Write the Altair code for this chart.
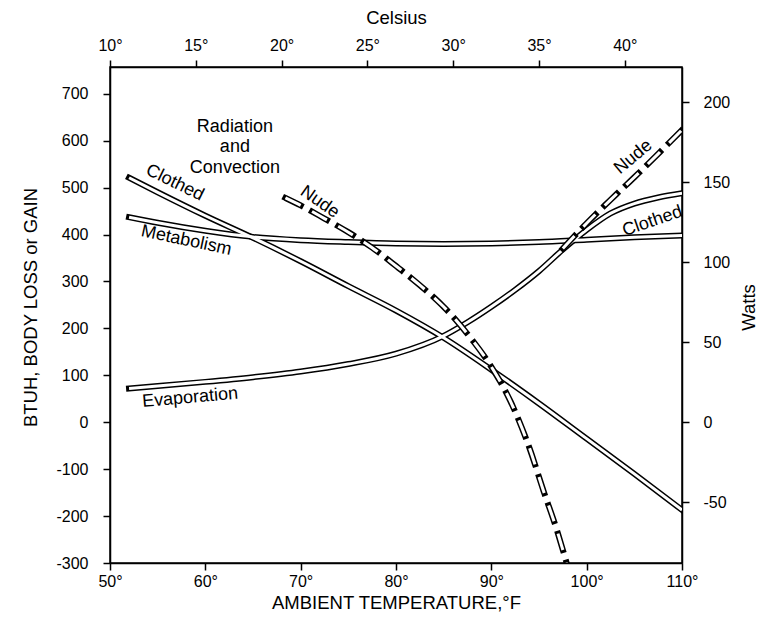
import altair as alt
import pandas as pd

# ---- data ----
F_CLOTHED = [52, 55, 60, 65, 70, 75, 80, 85, 90, 95, 100, 105, 110]
CLOTHED_RC = [521, 490, 440, 393, 343, 290, 238, 180, 112, 40, -35, -110, -187]

F_METAB = [52, 55, 60, 65, 70, 75, 80, 85, 90, 95, 100, 105, 110]
METABOLISM = [437, 425, 408, 395, 388, 384, 381, 380, 381, 384, 389, 394, 398]

F_EVAP = [52, 55, 60, 65, 70, 75, 80, 85, 87.5, 90, 92.5, 95, 97.5, 100, 102.5, 105, 107.5, 110]
EVAPORATION = [72, 77, 86, 96, 108, 124, 146, 184, 213, 246, 282, 322, 368, 410, 445, 466, 479, 488]

F_NUDE_RC = [68.4, 70, 72.5, 75, 77.5, 80, 82.5, 85, 87.5, 90, 92, 94, 95.5, 96.8, 97.9]
NUDE_RC = [478, 462, 434, 405, 372, 333, 292, 246, 188, 118, 45, -55, -148, -225, -300]

F_NUDE_EVAP = [97.5, 100, 102.5, 105, 107.5, 110]
NUDE_EVAP = [370, 424, 474, 522, 572, 623]

LABEL_TEXT = ["Radiation", "and", "Convection", "Clothed", "Metabolism", "Nude",
              "Evaporation", "Nude", "Clothed"]
LABEL_F = [63.1, 63.1, 63.1, 56.8, 58.0, 72.0, 58.4, 104.9, 106.9]
LABEL_Y = [629, 586, 542, 510, 387, 469, 52, 565, 428]
LABEL_ANGLE = [0, 0, 0, 26, 12, 35, 355, 320, 341]

F_TICKS = [50, 60, 70, 80, 90, 100, 110]
C_TICKS = [10, 15, 20, 25, 30, 35, 40]
BTUH_TICKS = [-300, -200, -100, 0, 100, 200, 300, 400, 500, 600, 700]
WATT_TICKS = [-50, 0, 50, 100, 150, 200]

F_DOMAIN = [50, 110]
BTUH_DOMAIN = [-300, 757]
C_DOMAIN = [10, 43.333]
WATT_DOMAIN = [-87.92, 221.86]

FONT = "Liberation Sans"

rows = []
for name, xs, ys in [("clothed", F_CLOTHED, CLOTHED_RC),
                     ("metabolism", F_METAB, METABOLISM),
                     ("evap", F_EVAP, EVAPORATION),
                     ("nude_rc", F_NUDE_RC, NUDE_RC),
                     ("nude_evap", F_NUDE_EVAP, NUDE_EVAP)]:
    for x, y in zip(xs, ys):
        rows.append({"series": name, "F": x, "BTUH": y})
df = pd.DataFrame(rows)

labels = pd.DataFrame({"text": LABEL_TEXT, "F": LABEL_F, "BTUH": LABEL_Y, "angle": LABEL_ANGLE})

x_scale = alt.Scale(domain=F_DOMAIN, nice=False, zero=False)
y_scale = alt.Scale(domain=BTUH_DOMAIN, nice=False, zero=False)

x_enc = alt.X("F:Q", scale=x_scale,
              axis=alt.Axis(orient="bottom", values=F_TICKS, labelExpr="datum.value + '°'",
                            title="AMBIENT TEMPERATURE,°F", titleY=39, titleBaseline="middle",
                            labelPadding=3, labelFlush=False))
y_enc = alt.Y("BTUH:Q", scale=y_scale,
              axis=alt.Axis(orient="left", values=BTUH_TICKS, labelExpr="'' + datum.value",
                            title="BTUH, BODY LOSS or GAIN",
                            titleX=-80, titleY=240, titleBaseline="middle", labelPadding=15))

base = alt.Chart(df).encode(x=x_enc, y=y_enc, detail="series:N")
solid = base.transform_filter(alt.FieldOneOfPredicate(field="series", oneOf=["clothed", "metabolism", "evap"]))
dashed = base.transform_filter(alt.FieldOneOfPredicate(field="series", oneOf=["nude_rc", "nude_evap"]))

solid_black = solid.mark_line(color="black", strokeWidth=6, strokeCap="square", interpolate="monotone", clip=True)
solid_white = solid.mark_line(color="white", strokeWidth=3, strokeCap="butt", interpolate="monotone", clip=True)
dashed_black = dashed.mark_line(color="black", strokeWidth=6, strokeCap="square", strokeDash=[17, 13],
                                interpolate="monotone", clip=True)
dashed_white = dashed.mark_line(color="white", strokeWidth=3, strokeCap="butt", strokeDash=[17, 13],
                                interpolate="monotone", clip=True)

text = alt.Chart(labels).mark_text(font=FONT, fontSize=18, color="black").encode(
    x=alt.X("F:Q", scale=x_scale), y=alt.Y("BTUH:Q", scale=y_scale),
    text="text:N", angle=alt.Angle("angle:Q", scale=None))

curves = alt.layer(solid_black, solid_white, dashed_black, dashed_white, text)

ax_df = pd.DataFrame({"C": C_DOMAIN, "W": WATT_DOMAIN})
axes = alt.Chart(ax_df).mark_point(opacity=0).encode(
    x=alt.X("C:Q", scale=alt.Scale(domain=C_DOMAIN, nice=False, zero=False),
            axis=alt.Axis(orient="top", values=C_TICKS, labelExpr="datum.value + '°'",
                          title="Celsius", titleY=-50, titleBaseline="middle",
                          labelPadding=7, labelFlush=False)),
    y=alt.Y("W:Q", scale=alt.Scale(domain=WATT_DOMAIN, nice=False, zero=False),
            axis=alt.Axis(orient="right", values=WATT_TICKS, labelExpr="'' + datum.value",
                          title="Watts",
                          titleX=66, titleY=240, titleAngle=270, titleBaseline="middle",
                          labelPadding=14)))

chart = alt.layer(curves, axes).resolve_scale(x="independent", y="independent").properties(
    width=572, height=496,
    autosize=alt.AutoSizeParams(type="none"),
    padding={"left": 102, "top": 59, "right": 75, "bottom": 50},
).configure_axis(
    labelFont=FONT, labelFontSize=16, labelColor="black",
    titleFont=FONT, titleFontSize=18.5, titleFontWeight="normal", titleColor="black",
    domainColor="black", domainWidth=1.5, tickColor="black", tickWidth=1.5, tickSize=7,
    grid=False,
).configure_view(stroke="black", strokeWidth=1.5)

chart.save("out.html", embed_options={"renderer": "svg", "actions": False})
